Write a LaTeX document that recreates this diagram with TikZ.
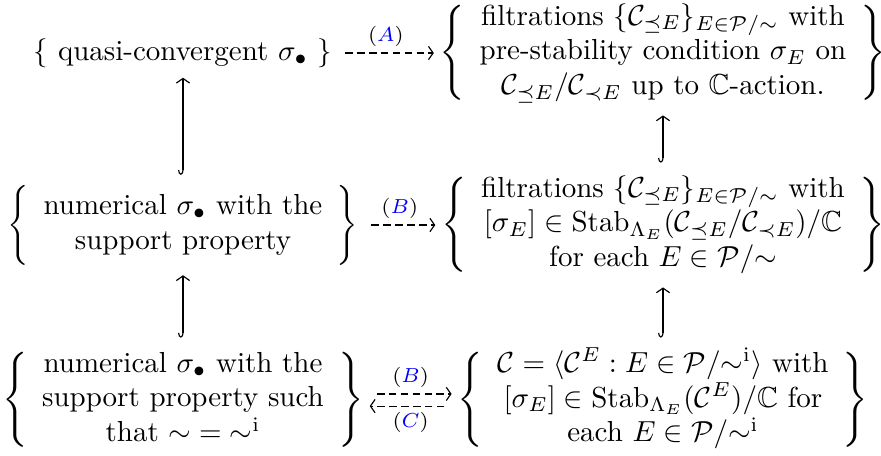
\documentclass[tikz,border=0pt]{standalone}
\usepackage{amsmath}
\usepackage{amsfonts}
\usepackage{amssymb}
\usepackage{graphicx}
\usepackage{tikz}
\usetikzlibrary{arrows.meta}
\delimiterfactor=1000
\delimitershortfall=0pt
\newcommand{\bracesize}[2]{\vcenter{\hbox{\resizebox*{!}{#1}{$\nulldelimiterspace=0pt\left#2\vcenter{\hbox{\rule{0pt}{27pt}}}\right.$}}}}
\newcommand{\setof}[2]{\bracesize{#1}{\{}\begin{array}{c}#2\end{array}\bracesize{#1}{\}}}

\begin{document}
\begin{tikzpicture}[x=0.345pt,y=-0.345pt,
  hookup/.style={{Hooks[right,length=1.6pt,width=3.4pt]}-{Straight Barb[length=1.6pt,width=4.6pt]},line width=0.4pt},
  dasharrow/.style={-{Straight Barb[length=1.6pt,width=4.6pt]},line width=0.4pt,dash pattern=on 2.6pt off 1.5pt,shorten <=1pt,shorten >=-1.5pt},
  lab/.style={font=\scriptsize,inner sep=2pt}]
  \useasboundingbox (0,0) rectangle (881,455);
  \node (tl) at (183,53) {$\{\text{ quasi-convergent }\sigma_\bullet\ \}$};
  \node (ml) at (183,225) {$\setof{27.6pt}{\text{numerical }\sigma_\bullet\text{ with the}\\ \text{support property}}$};
  \node (bl) at (183,400) {$\setof{32.8pt}{\text{numerical }\sigma_\bullet\text{ with the}\\ \text{support property such}\\ \text{that }{\sim}={\sim}^{\mathrm{i}}}$};
  \node (tr) at (663,53) {$\setof{32.8pt}{\text{filtrations }\{\mathcal{C}_{\preceq E}\}_{E\in\mathcal{P}/{\sim}}\text{ with}\\ \text{pre-stability condition }\sigma_E\text{ on}\\ \mathcal{C}_{\preceq E}/\mathcal{C}_{\prec E}\text{ up to }\mathbb{C}\text{-action.}}$};
  \node (mr) at (663,225) {$\setof{32.8pt}{\text{filtrations }\{\mathcal{C}_{\preceq E}\}_{E\in\mathcal{P}/{\sim}}\text{ with}\\ {[}\sigma_E]\in\mathrm{Stab}_{\Lambda_E}(\mathcal{C}_{\preceq E}/\mathcal{C}_{\prec E})/\mathbb{C}\\ \text{for each }E\in\mathcal{P}/{\sim}}$};
  \node (br) at (663,400) {$\setof{32.8pt}{\mathcal{C}=\langle\mathcal{C}^E:E\in\mathcal{P}/{\sim}^{\mathrm{i}}\rangle\text{ with}\\ {[}\sigma_E]\in\mathrm{Stab}_{\Lambda_E}(\mathcal{C}^E)/\mathbb{C}\text{ for}\\ \text{each }E\in\mathcal{P}/{\sim}^{\mathrm{i}}}$};
  \draw[hookup](ml)--(tl);
  \draw[hookup](bl)--(ml);
  \draw[hookup](mr)--(tr);
  \draw[hookup](br)--(mr);
  \draw[dasharrow](tl)--node[above,lab]{$(\textcolor{blue}{A})$}(tr);
  \draw[dasharrow](ml)--node[above,lab]{$(\textcolor{blue}{B})$}(mr);
  \draw[dasharrow]([yshift=2.1pt]bl.east)--node[above,lab]{$(\textcolor{blue}{B})$}([yshift=2.1pt]br.west);
  \draw[dasharrow]([yshift=-2.1pt]br.west)--node[below,lab]{$(\textcolor{blue}{C})$}([yshift=-2.1pt]bl.east);
\end{tikzpicture}
\end{document}
